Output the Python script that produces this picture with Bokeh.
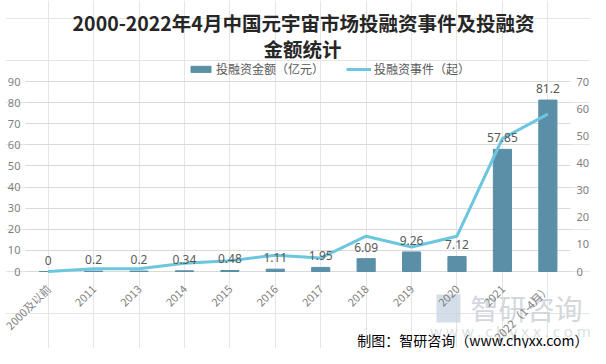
import math
from bokeh.plotting import figure
from bokeh.models import (ColumnDataSource, FactorRange, Range1d, LinearAxis, Legend,
                          LegendItem, Label, FixedTicker, BoxAnnotation, CategoricalAxis, Grid)
from bokeh.core.properties import value
from bokeh.embed import file_html
from bokeh.resources import INLINE

categories = ["2000及以前", "2011", "2013", "2014", "2015", "2016", "2017",
              "2018", "2019", "2020", "2021", "2022（1-4月）"]
amounts = [0, 0.2, 0.2, 0.34, 0.48, 1.11, 1.95, 6.09, 9.26, 7.12, 57.85, 81.2]
amount_labels = ["0", "0.2", "0.2", "0.34", "0.48", "1.11", "1.95", "6.09",
                 "9.26", "7.12", "57.85", "81.2"]
events = [0, 1, 1, 3, 4, 6, 5, 13, 9, 13, 49, 58]
left_ticks = [0, 10, 20, 30, 40, 50, 60, 70, 80, 90]
right_ticks = [0, 10, 20, 30, 40, 50, 60, 70]

BAR = "#5b8fa8"
LINE = "#6cc6de"
GRAY = "#7f7f7f"
GRID = "#d9d9d9"
CJK = "Noto Sans CJK SC"

W, H = 590, 348
LEFT = 5
src = ColumnDataSource(dict(cat=categories, amt=amounts, lab=amount_labels, ev=events))

# the frame spans (almost) the whole canvas; axes are pinned at fixed locations
px_per_unit = 190 / 90.0
y0 = -(H - 271) / px_per_unit
y1 = 90 + 81 / px_per_unit
unit_px = 547 / len(categories)
pad = (25 - LEFT) / unit_px
p = figure(width=W, height=H,
           x_range=FactorRange(*categories, range_padding=pad,
                               range_padding_units="absolute"),
           y_range=Range1d(y0, y1), output_backend="svg", toolbar_location=None,
           min_border=0, min_border_left=LEFT, min_border_right=W - 572 - (25 - LEFT),
           y_axis_location=None, x_axis_location=None)
p.title.visible = False
p.extra_y_ranges = {"ev": Range1d(y0 * 70 / 90, y1 * 70 / 90)}
p.outline_line_color = None
p.background_fill_color = "white"
p.border_fill_color = "white"

bars = p.vbar(x="cat", top="amt", width=0.4, color=BAR, source=src)
line = p.line(x="cat", y="ev", line_width=3, color=LINE, y_range_name="ev", source=src)

p.text(x="cat", y="amt", text="lab", source=src, text_align="center",
       text_baseline="bottom", y_offset=-7, text_font=value("Noto Sans"),
       text_font_size="12px", text_color="#595959")

# axes
la = LinearAxis(ticker=FixedTicker(ticks=left_ticks), fixed_location=0)
ra = LinearAxis(y_range_name="ev", ticker=FixedTicker(ticks=right_ticks),
                fixed_location=len(categories))
xa = CategoricalAxis(fixed_location=0)
p.add_layout(la, "left")
p.add_layout(ra, "right")
p.add_layout(xa, "below")
for ax in [la, ra, xa]:
    ax.axis_line_color = None
    ax.major_tick_line_color = None
    ax.minor_tick_line_color = None
    ax.major_tick_out = 0
    ax.major_tick_in = 0
    ax.minor_tick_out = 0
    ax.minor_tick_in = 0
    ax.major_label_text_color = GRAY
    ax.major_label_text_font_size = "11px"
for ax in [la, ra]:
    ax.major_label_text_font = "Noto Sans"
la.major_label_standoff = 5
ra.major_label_standoff = 6
xa.major_label_orientation = math.pi / 4
xa.major_label_text_font = CJK
xa.major_label_standoff = 15

grid = Grid(dimension=1, ticker=FixedTicker(ticks=left_ticks), grid_line_color=GRID,
            grid_line_width=1)
grid.cross_bounds = (0, len(categories))
p.add_layout(grid, "center")

legend = Legend(items=[LegendItem(label="投融资金额（亿元）", renderers=[bars]),
                       LegendItem(label="投融资事件（起）", renderers=[line])],
                orientation="horizontal", location=(188 - LEFT, 271),
                label_text_font=CJK, label_text_font_size="12px",
                label_text_color="#595959", glyph_width=25, glyph_height=8,
                spacing=22, padding=0, margin=0, border_line_color=None,
                background_fill_alpha=0, label_standoff=3, label_height=14)
p.add_layout(legend, "center")

# title (screen units relative to the frame)
p.add_layout(Label(x=303 - LEFT, y=H - 22, x_units="screen", y_units="screen",
                   text="2000-2022年4月中国元宇宙市场投融资事件及投融资",
                   text_align="center", text_baseline="middle", text_font=CJK,
                   text_font_size="19.5px", text_font_style="bold", text_color="#262626"))
p.add_layout(Label(x=302 - LEFT, y=H - 48, x_units="screen", y_units="screen",
                   text="金额统计", text_align="center", text_baseline="middle",
                   text_font=CJK, text_font_size="19.5px", text_font_style="bold",
                   text_color="#262626"))

# watermark
p.add_layout(BoxAnnotation(left=436 - LEFT, right=460 - LEFT, bottom=H - 322, top=H - 294,
                           left_units="screen", right_units="screen",
                           bottom_units="screen", top_units="screen",
                           fill_color="#c9d6e2", fill_alpha=0.8, line_color=None,
                           level="underlay"))
p.add_layout(Label(x=526 - LEFT, y=H - 307, x_units="screen", y_units="screen",
                   text="智研咨询", text_align="center", text_baseline="middle",
                   text_font=CJK, text_font_size="28px", text_color="#d3d7dc",
                   level="underlay"))
p.add_layout(Label(x=510 - LEFT, y=H - 330, x_units="screen", y_units="screen",
                   text="w w w . c h y x x . c o m", text_align="center",
                   text_baseline="middle", text_font="Noto Sans",
                   text_font_size="15px", text_color="#dcdfe3", level="underlay"))

# footer
p.add_layout(Label(x=588 - LEFT, y=H - 339, x_units="screen", y_units="screen",
                   text="制图：智研咨询（www.chyxx.com）", text_align="right",
                   text_baseline="middle", text_font=CJK, text_font_size="14px",
                   text_color="#000000"))

open("out.html", "w").write(file_html(p, INLINE))
